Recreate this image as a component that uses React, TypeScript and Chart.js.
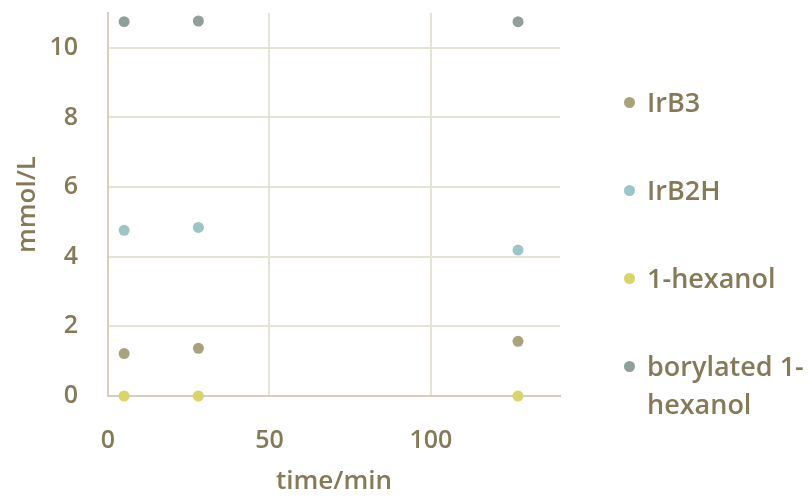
import { useEffect, useRef } from 'react';
import { Chart, registerables } from 'chart.js';

Chart.register(...registerables);

// Sampling times (min) and concentrations (mmol/L)
const times = [5, 28, 127];
const irB3 = [1.22, 1.37, 1.57];
const irB2H = [4.76, 4.84, 4.19];
const hexanol = [0, 0, 0];
const borylatedHexanol = [10.75, 10.77, 10.75];

const seriesNames = ['IrB3', 'IrB2H', '1-hexanol', 'borylated 1-hexanol'];
const seriesValues = [irB3, irB2H, hexanol, borylatedHexanol];
const seriesColors = ['#a8a37c', '#9cc5c5', '#d8d46a', '#929f99'];

const xTitle = 'time/min';
const yTitle = 'mmol/L';

const TEXT = '#857957';
const GRID = '#e6e2d7';
const AXIS = '#d6cfbd';
const FONT = '"Open Sans", Lato, sans-serif';

export default function App() {
  const canvasRef = useRef<HTMLCanvasElement>(null);

  useEffect(() => {
    const chart = new Chart(canvasRef.current!, {
      type: 'scatter',
      data: {
        datasets: seriesNames.map((name, i) => ({
          label: name,
          data: times.map((t, j) => ({ x: t, y: seriesValues[i][j] })),
          backgroundColor: seriesColors[i],
          borderColor: seriesColors[i],
          pointRadius: 5.5,
          pointBorderWidth: 0,
          clip: false as any,
        })),
      },
      options: {
        animation: false,
        responsive: false,
        layout: { padding: { top: 13, right: 250, left: 0, bottom: 0 } },
        plugins: {
          legend: { display: false },
          tooltip: { enabled: false },
        },
        scales: {
          x: {
            type: 'linear',
            min: 0,
            max: 140,
            afterBuildTicks: (s: any) => {
              s.ticks = s.ticks.filter((t: any) => t.value <= 100);
            },
            afterFit: (s: any) => {
              s.height = 101;
              s.paddingLeft = 0;
              s.paddingRight = 0;
            },
            ticks: { stepSize: 50, padding: 30, color: TEXT, font: { family: FONT, size: 25, weight: 600 } },
            grid: { color: GRID, lineWidth: 2, drawTicks: false },
            border: { color: AXIS, width: 2 },
            title: {
              display: true,
              text: xTitle,
              color: TEXT,
              font: { family: FONT, size: 26, weight: 600 },
              padding: { top: 0, bottom: 0 },
            },
          },
          y: {
            min: 0,
            max: 11,
            afterBuildTicks: (s: any) => {
              s.ticks = s.ticks.filter((t: any) => t.value <= 10);
            },
            afterFit: (s: any) => {
              s.width = 108;
              s.paddingTop = 0;
              s.paddingBottom = 0;
            },
            ticks: { stepSize: 2, padding: 30, color: TEXT, font: { family: FONT, size: 25, weight: 600 } },
            grid: { color: GRID, lineWidth: 2, drawTicks: false },
            border: { color: AXIS, width: 2 },
            title: {
              display: true,
              text: yTitle,
              color: TEXT,
              font: { family: FONT, size: 26, weight: 600 },
              padding: { top: 12, bottom: 0 },
            },
          },
        },
      },
    });
    return () => chart.destroy();
  }, []);

  return (
    <div style={{ position: 'fixed', left: 0, top: 0, width: 810, height: 497, background: '#fff' }}>
      <canvas ref={canvasRef} width={810} height={497} style={{ display: 'block' }} />
      <div
        style={{
          position: 'absolute',
          left: 624,
          top: 83,
          display: 'flex',
          flexDirection: 'column',
          gap: 50,
          fontFamily: FONT,
          fontSize: 27,
          fontWeight: 600,
          lineHeight: '38px',
          color: TEXT,
        }}
      >
        {seriesNames.map((name, i) => (
          <div key={name} style={{ display: 'flex', alignItems: 'flex-start' }}>
            <span
              style={{
                width: 11,
                height: 11,
                borderRadius: '50%',
                background: seriesColors[i],
                marginTop: 13.5,
                marginRight: 12,
                flex: 'none',
              }}
            />
            <span style={{ width: 175, whiteSpace: 'normal' }}>{name}</span>
          </div>
        ))}
      </div>
    </div>
  );
}
